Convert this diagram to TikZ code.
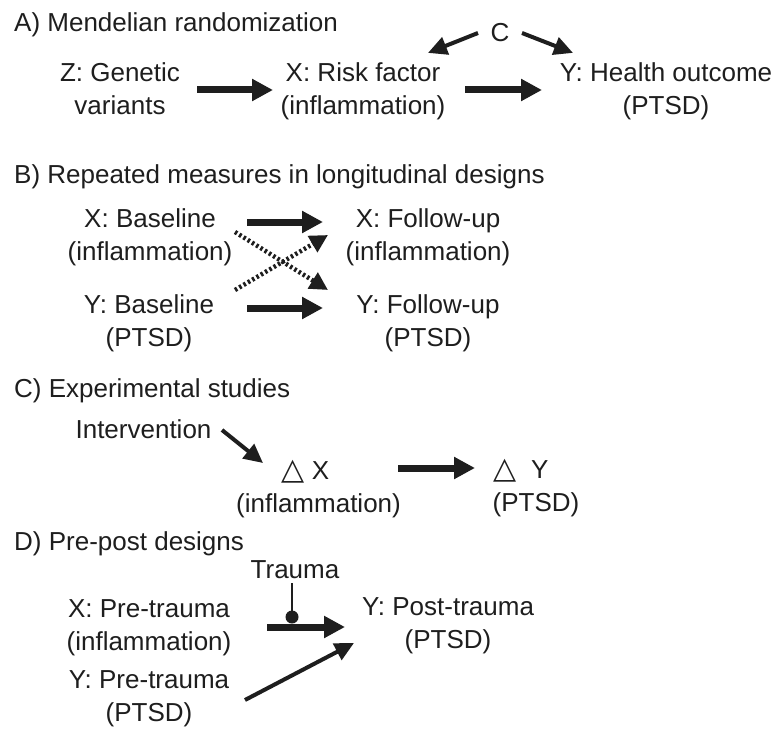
\documentclass[tikz,border=0pt]{standalone}
\usepackage{fontspec}
\setmainfont{Liberation Sans}
\newfontfamily\dejavu{DejaVu Sans}
\usetikzlibrary{arrows.meta}
\definecolor{ink}{RGB}{30,30,30}
\newcommand{\tri}{{\dejavu\fontsize{30}{33}\selectfont △}}
\begin{document}
\begin{tikzpicture}[x=1pt,y=-1pt,
  txt/.style={font=\fontsize{26}{33}\selectfont, text=ink, inner sep=0pt, align=center},
  ttl/.style={txt, anchor=west},
  bigarrow/.style={draw=ink, line width=7pt, -{Triangle[length=21pt,width=21pt]}},
  medarrow/.style={draw=ink, line width=4pt, -{Triangle[length=19pt,width=18pt]}},
  dotarrow/.style={draw=ink, line width=4.5pt, dash pattern=on 2.5pt off 2.5pt, -{Triangle[length=18pt,width=18pt]}},
  thinline/.style={draw=ink, line width=1.4pt},
]
\useasboundingbox[fill=white] (0,0) rectangle (771,733);

% A
\node[ttl] (ta) at (14,25.4) {\strut A) Mendelian randomization};
\node[txt] (c) at (500,35.4) {\strut C};
\node[txt] (z) at (120,91.9) {\strut Z: Genetic\\\strut variants};
\node[txt] (x) at (363,91.9) {\strut X: Risk factor\\\strut (inflammation)};
\node[txt] (y) at (666,91.9) {\strut Y: Health outcome\\\strut (PTSD)};
\draw[bigarrow] ([shift={(77,-1.9)}]z.center) -- ([shift={(-90,-1.9)}]x.center);
\draw[bigarrow] ([shift={(102,-1.9)}]x.center) -- ([shift={(-124,-1.9)}]y.center);
\draw[medarrow] ([shift={(-22,-2.4)}]c.center) -- ([shift={(65,-39)}]x.center);
\draw[medarrow] ([shift={(22,-2.4)}]c.center) -- ([shift={(-93,-39)}]y.center);

% B
\node[ttl] (tb) at (14,176.4) {\strut B) Repeated measures in longitudinal designs};
\node[txt] (xb) at (150,236.9) {\strut X: Baseline\\\strut (inflammation)};
\node[txt] (xf) at (428,236.9) {\strut X: Follow-up\\\strut (inflammation)};
\node[txt] (yb) at (149,322.9) {\strut Y: Baseline\\\strut (PTSD)};
\node[txt] (yf) at (428,322.9) {\strut Y: Follow-up\\\strut (PTSD)};
\draw[bigarrow] ([shift={(97,-14.9)}]xb.center) -- ([shift={(-105,-14.9)}]xf.center);
\draw[bigarrow] ([shift={(98,-14.9)}]yb.center) -- ([shift={(-105,-14.9)}]yf.center);
\draw[dotarrow] ([shift={(85,-4.9)}]xb.center) -- ([shift={(-100,-32.9)}]yf.center);
\draw[dotarrow] ([shift={(86,-32.9)}]yb.center) -- ([shift={(-100,-1.9)}]xf.center);

% C
\node[ttl] (tc) at (14,390.4) {\strut C) Experimental studies};
\node[txt] (iv) at (143.5,431.4) {\strut Intervention};
\node[txt] (dx) at (318.5,488.9) {\strut\tri\ X\rule{26pt}{0pt}\\\strut (inflammation)};
\node[txt] (dy) at (536,488) {\strut\tri\ \ Y\rule{30pt}{0pt}\\\strut (PTSD)};
\draw[medarrow] ([shift={(78.5,-1.4)}]iv.center) -- ([shift={(-55.5,-25.9)}]dx.center);
\draw[bigarrow] ([shift={(79.5,-20.9)}]dx.center) -- ([shift={(-61,-20)}]dy.center);

% D
\node[ttl] (td) at (14,543.4) {\strut D) Pre-post designs};
\node[txt] (tr) at (295,571.4) {\strut Trauma};
\node[txt] (xp) at (149,626.9) {\strut X: Pre-trauma\\\strut (inflammation)};
\node[txt] (yp) at (149,697.9) {\strut Y: Pre-trauma\\\strut (PTSD)};
\node[txt] (yo) at (448,624.9) {\strut Y: Post-trauma\\\strut (PTSD)};
\coordinate (dot) at (292,617);
\draw[thinline] ([shift={(-3,12)}]tr.center) -- (dot);
\fill[ink] (dot) circle (6.5pt);
\draw[bigarrow] ([shift={(118,0.1)}]xp.center) -- ([shift={(-103,2.1)}]yo.center);
\draw[medarrow] ([shift={(96,2.1)}]yp.center) -- ([shift={(-94,18.1)}]yo.center);
\end{tikzpicture}
\end{document}
